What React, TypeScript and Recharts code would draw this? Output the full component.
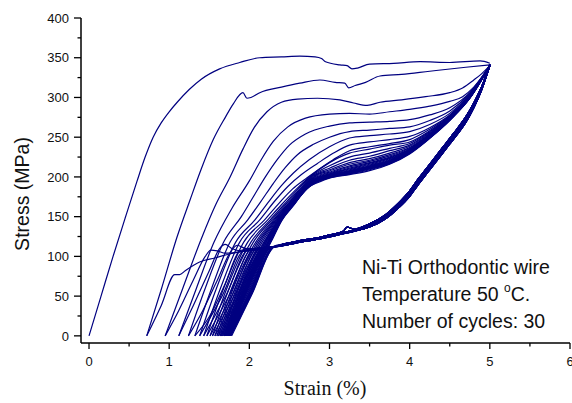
import { LineChart, Line, XAxis, YAxis } from 'recharts'

// Ni-Ti wire, 30 load/unload cycles, stress-strain loops
const LINE_COLOR = '#000080'

// loading branch of every cycle: [strain %, stress MPa]
const loadingPaths: number[][][] = [
  [[0,0],[0.15,50],[0.3,100],[0.45,148],[0.6,195],[0.7,225],[0.8,250],[0.9,268],[1.0,282],[1.1,294],[1.25,310],[1.4,323],[1.63,336],[1.88,344],[2.13,350],[2.4,351],[2.63,352],[2.82,351],[2.9,349],[2.95,345],[3.13,341],[3.22,340],[3.28,336],[3.35,337],[3.5,342],[3.8,343],[4.13,345],[4.5,344],[4.88,346],[5,343]],
  [[0.72,0],[0.9,58],[1.1,125],[1.26,171],[1.4,210],[1.55,247],[1.7,275],[1.8,292],[1.92,306],[1.97,299],[2.02,300],[2.13,306],[2.4,313],[2.63,318],[2.88,322],[3.07,319],[3.19,318],[3.24,312],[3.32,315],[3.45,319],[3.63,327],[3.9,329],[4.25,333],[4.7,338],[5,341]],
  [[0.95,0],[1.17,60],[1.4,122],[1.58,165],[1.76,200],[1.92,235],[2.06,262],[2.22,282],[2.4,294],[2.6,298],[2.85,299],[3.13,297],[3.3,293],[3.47,290],[3.63,294],[3.9,297],[4.2,301],[4.5,306],[4.66,312],[4.8,322],[4.9,330],[5,340]],
  [[1.12,0],[1.34,60],[1.56,118],[1.78,160],[2.0,195],[2.15,222],[2.3,245],[2.48,263],[2.7,274],[3.0,279],[3.25,280],[3.5,279],[3.75,282],[4.0,285],[4.25,289],[4.5,295],[4.66,301],[4.8,313],[5,340]],
  [[1.24,0],[1.45,60],[1.68,118],[1.9,150],[2.05,175],[2.2,200],[2.35,222],[2.5,240],[2.7,254],[3.0,264],[3.25,268],[3.5,269],[3.75,270],[4.0,272],[4.25,278],[4.5,287],[4.75,306],[5,340]],
  [[1.32,0],[1.53,60],[1.76,118],[1.98,146],[2.15,170],[2.3,192],[2.45,212],[2.6,228],[2.8,241],[3.0,250],[3.25,257],[3.5,259],[3.75,261],[4.0,263],[4.25,271],[4.5,283],[4.75,305],[5,340]],
  [[1.38,0],[1.59,60],[1.83,118],[2.07,146],[2.25,170],[2.4,189],[2.55,205],[2.75,222],[3.0,238],[3.25,249],[3.5,252],[3.75,254],[4.0,257],[4.25,266],[4.5,280],[4.75,304],[5,340]],
  [[1.43,0],[1.64,60],[1.88,118],[2.13,146],[2.32,170],[2.48,188],[2.65,203],[2.85,217],[3.05,230],[3.25,240],[3.5,244],[3.75,247],[4.0,251],[4.25,262],[4.5,278],[4.75,303],[5,340]],
  [[1.47,0],[1.68,60],[1.93,118],[2.19,146],[2.38,168],[2.54,185],[2.72,199],[2.9,212],[3.05,222],[3.25,233],[3.5,238],[3.75,242],[4.0,247],[4.25,260],[4.5,277],[4.75,303],[5,340]],
  [[1.51,0],[1.72,60],[1.98,118],[2.23,146],[2.4,165],[2.59,185],[2.75,200],[3.0,218],[3.25,230],[3.5,235],[3.75,240],[4.0,244],[4.25,258],[4.5,276],[4.75,302],[5,340]],
  [[1.54,0],[1.75,60],[2.02,118],[2.26,146],[2.43,165],[2.61,185],[2.8,203],[3.0,214],[3.25,225],[3.5,230],[3.75,236],[4.0,242],[4.25,257],[4.5,275.5],[4.75,302],[5,340]],
  [[1.57,0],[1.78,60],[2.05,118],[2.28,146],[2.45,165],[2.63,185],[2.8,202],[3.0,211],[3.25,221],[3.5,226],[3.75,233],[4.0,240],[4.25,256],[4.5,275],[4.75,301.5],[5,340]],
  [[1.595,0],[1.8,60],[2.08,118],[2.3,146],[2.47,165],[2.64,185],[2.8,201],[3.0,209],[3.25,218],[3.5,223],[3.75,230],[4.0,238.5],[4.25,255],[4.5,274.5],[4.75,301.5],[5,340]],
  [[1.615,0],[1.82,60],[2.1,118],[2.315,146],[2.48,165],[2.65,185],[2.8,200],[3.0,207.5],[3.25,216],[3.5,221],[3.75,228],[4.0,237],[4.25,254],[4.5,274],[4.75,301],[5,340]],
  [[1.635,0],[1.84,60],[2.12,118],[2.33,146],[2.49,165],[2.66,185],[2.8,199],[3.0,206],[3.25,214],[3.5,219.5],[3.75,226.5],[4.0,236],[4.25,253.5],[4.5,274],[4.75,301],[5,340]],
  [[1.65,0],[1.86,60],[2.14,118],[2.34,146],[2.5,165],[2.67,185],[2.8,198],[3.0,205],[3.25,212.5],[3.5,218],[3.75,225],[4.0,235],[4.25,253],[4.5,273.5],[4.75,301],[5,340]],
  [[1.665,0],[1.87,60],[2.16,118],[2.35,146],[2.505,165],[2.675,185],[2.8,197],[3.0,204],[3.25,211],[3.5,217],[3.75,224],[4.0,234.5],[4.25,252.5],[4.5,273.5],[4.75,300.5],[5,340]],
  [[1.68,0],[1.89,60],[2.18,118],[2.36,146],[2.51,165],[2.68,185],[2.8,196.5],[3.0,203.5],[3.25,210],[3.5,216],[3.75,223],[4.0,234],[4.25,252],[4.5,273],[4.75,300.5],[5,340]],
  [[1.69,0],[1.9,60],[2.19,118],[2.365,146],[2.515,165],[2.685,185],[2.8,196],[3.0,203],[3.25,209],[3.5,215],[3.75,222],[4.0,233.5],[4.25,251.5],[4.5,273],[4.75,300.5],[5,340]],
  [[1.7,0],[1.91,60],[2.2,118],[2.37,146],[2.52,165],[2.69,185],[2.8,195.5],[3.0,202.5],[3.25,208],[3.5,214],[3.75,221],[4.0,233],[4.25,251],[4.5,273],[4.75,300],[5,340]],
  [[1.71,0],[1.92,60],[2.21,118],[2.375,146],[2.525,165],[2.695,185],[2.8,195],[3.0,202],[3.25,207.5],[3.5,213.5],[3.75,220.5],[4.0,232.5],[4.25,250.5],[4.5,272.5],[4.75,300],[5,340]],
  [[1.72,0],[1.93,60],[2.22,118],[2.38,146],[2.53,165],[2.7,185],[2.8,194.5],[3.0,201.5],[3.25,207],[3.5,213],[3.75,220],[4.0,232],[4.25,250.5],[4.5,272.5],[4.75,300],[5,340]],
  [[1.73,0],[1.94,60],[2.23,118],[2.385,146],[2.535,165],[2.705,185],[2.8,194],[3.0,201],[3.25,206.5],[3.5,212.5],[3.75,219.5],[4.0,231.5],[4.25,250],[4.5,272.5],[4.75,300],[5,340]],
  [[1.735,0],[1.945,60],[2.235,118],[2.39,146],[2.54,165],[2.71,185],[2.8,193.5],[3.0,200.5],[3.25,206],[3.5,212],[3.75,219],[4.0,231],[4.25,250],[4.5,272],[4.75,299.5],[5,340]],
  [[1.74,0],[1.95,60],[2.24,118],[2.393,146],[2.545,165],[2.712,185],[2.8,193],[3.0,200],[3.25,205.5],[3.5,211.5],[3.75,218.5],[4.0,231],[4.25,249.5],[4.5,272],[4.75,299.5],[5,340]],
  [[1.745,0],[1.955,60],[2.245,118],[2.396,146],[2.548,165],[2.714,185],[2.8,192.5],[3.0,199.8],[3.25,205],[3.5,211],[3.75,218],[4.0,230.5],[4.25,249.5],[4.5,272],[4.75,299.5],[5,340]],
  [[1.75,0],[1.96,60],[2.25,118],[2.4,146],[2.55,165],[2.716,185],[2.8,192],[3.0,199.5],[3.25,204.5],[3.5,210.5],[3.75,217.5],[4.0,230],[4.25,249],[4.5,272],[4.75,299.5],[5,340]],
  [[1.755,0],[1.965,60],[2.26,118],[2.403,146],[2.552,165],[2.718,185],[2.8,191.5],[3.0,199.3],[3.25,204],[3.5,210],[3.75,217],[4.0,230],[4.25,249],[4.5,271.5],[4.75,299],[5,340]],
  [[1.76,0],[1.97,60],[2.265,118],[2.406,146],[2.555,165],[2.72,185],[2.8,191],[3.0,199],[3.25,203.5],[3.5,209],[3.75,216.5],[4.0,229.5],[4.25,249],[4.5,271.5],[4.75,299],[5,340]],
  [[1.77,0],[1.98,60],[2.27,118],[2.41,146],[2.56,165],[2.72,187],[2.8,190.5],[3.0,198.5],[3.25,203],[3.5,208],[3.75,216],[4.0,229],[4.25,248.5],[4.5,271],[4.75,299],[5,340]],
]

// common upper part of the unloading (reverse) branch, three slightly different runs
const unloadBranchA = [[5,342],[4.9,314],[4.8,293],[4.7,275.5],[4.6,261.5],[4.5,248.5],[4.4,235.5],[4.3,222.5],[4.2,209.5],[4.1,196.5],[4.0,182.5],[3.85,166],[3.7,152.5],[3.5,141],[3.3,134.5],[3.22,137],[3.17,131.5],[3.0,127],[2.88,124],[2.7,121],[2.59,119],[2.45,116]]
const unloadBranchB = [[5,340],[4.9,312],[4.8,290],[4.7,272],[4.6,258],[4.5,245],[4.4,232],[4.3,219],[4.2,206],[4.1,193],[4.0,179],[3.85,163],[3.7,150],[3.5,139],[3.3,133],[3.17,130],[3.0,126],[2.88,123],[2.7,120],[2.59,118],[2.45,115]]
const unloadBranchC = [[5,340],[4.9,310],[4.8,287],[4.7,268.5],[4.6,254.5],[4.5,241.5],[4.4,228.5],[4.3,215.5],[4.2,202.5],[4.1,189.5],[4.0,175.5],[3.85,160],[3.7,147.5],[3.5,137],[3.3,131.5],[3.17,128.5],[3.0,124.5],[2.88,122],[2.7,119],[2.59,117],[2.45,114]]
const branchOfCycle = [0,0,1,2,0,1,2,0,1,2,0,1,2,0,1,2,0,1,2,0,1,2,0,1,2,0,1,2,0,1]

// lower plateau end and drop to residual strain, per cycle
const unloadTails: number[][][] = [
  [[2.3,112],[2.1,109],[1.9,106],[1.75,103],[1.57,98],[1.38,93],[1.2,82],[1.13,77],[1.07,77],[0.9,38],[0.72,0]],
  [[2.3,112],[2.1,108],[1.9,106],[1.7,104],[1.6,107],[1.52,108],[1.45,100],[1.3,70],[1.12,32],[0.95,0]],
  [[2.3,112],[2.1,109],[1.9,107],[1.78,110],[1.7,115],[1.63,110],[1.5,82],[1.3,38],[1.12,0]],
  [[2.3,112],[2.1,109],[1.95,110],[1.85,114],[1.78,108],[1.6,70],[1.42,32],[1.24,0]],
  [[2.3,112],[2.1,110],[1.95,109],[1.88,107],[1.7,66],[1.5,24],[1.32,0]],
  [[2.3,112],[2.1,110],[1.94,108],[1.66,50],[1.38,0]],
  [[2.3,112],[2.1,110],[1.99,109],[1.71,51],[1.43,0]],
  [[2.3,112],[2.15,110],[2.03,109],[1.75,51],[1.47,0]],
  [[2.3,112],[2.15,111],[2.07,110],[1.79,52],[1.51,0]],
  [[2.3,112],[2.2,111],[2.1,110],[1.82,52],[1.54,0]],
  [[2.3,112],[2.2,111],[2.13,110],[1.85,52],[1.57,0]],
  [[2.3,112],[2.15,111],[1.87,53],[1.595,0]],
  [[2.3,112],[2.17,111],[1.89,53],[1.615,0]],
  [[2.3,112],[2.19,111],[1.91,53],[1.635,0]],
  [[2.3,112],[2.2,111],[1.925,53],[1.65,0]],
  [[2.3,112],[2.21,111],[1.935,53],[1.665,0]],
  [[2.3,112],[2.22,111],[1.95,53],[1.68,0]],
  [[2.3,112],[2.23,112],[1.96,54],[1.69,0]],
  [[2.3,112],[2.24,112],[1.97,54],[1.7,0]],
  [[2.3,112],[2.25,112],[1.98,54],[1.71,0]],
  [[2.3,112],[2.26,112],[1.99,54],[1.72,0]],
  [[2.3,112],[2.27,112],[2.0,54],[1.73,0]],
  [[2.3,112],[2.275,112],[2.005,54],[1.735,0]],
  [[2.3,112],[2.28,112],[2.01,54],[1.74,0]],
  [[2.3,112],[2.285,112],[2.015,54],[1.745,0]],
  [[2.29,112],[2.02,54],[1.75,0]],
  [[2.295,112],[2.025,54],[1.755,0]],
  [[2.3,112],[2.03,54],[1.76,0]],
  [[2.305,112],[2.035,54],[1.77,0]],
  [[2.31,112],[2.04,54],[1.78,0]],
]

const xTicks = [0, 0.5, 1, 1.5, 2, 2.5, 3, 3.5, 4, 4.5, 5, 5.5, 6]
const yTicks = [0, 25, 50, 75, 100, 125, 150, 175, 200, 225, 250, 275, 300, 325, 350, 375, 400]
const noteLines = ['Ni-Ti Orthodontic wire', 'Temperature 50 ', 'Number of cycles: 30']

const SANS = '"Liberation Sans", Arial, sans-serif'
const SERIF = '"Liberation Serif", "Times New Roman", serif'
const AXIS_X = 81
const AXIS_Y = 343

const toPoints = (pts: number[][]) => pts.map(([x, y]) => ({ x, y }))
const branches = [unloadBranchA, unloadBranchB, unloadBranchC]
const loadingSeries = loadingPaths.map(toPoints)
const unloadingSeries = unloadTails.map((tail, i) => toPoints([...branches[branchOfCycle[i]], ...tail]))

// eslint-disable-next-line @typescript-eslint/no-explicit-any
function XTick({ x, payload }: any) {
  const major = Number.isInteger(payload.value)
  return (
    <g>
      <line x1={x} x2={x} y1={AXIS_Y} y2={AXIS_Y + (major ? 6 : 3.5)} stroke="#000" strokeWidth={1.3} />
      {major && (
        <text x={x} y={AXIS_Y + 23} textAnchor="middle" fontSize={13} fontFamily={SANS} fill="#111">
          {payload.value}
        </text>
      )}
    </g>
  )
}

// eslint-disable-next-line @typescript-eslint/no-explicit-any
function YTick({ y, payload }: any) {
  const major = payload.value % 50 === 0
  return (
    <g>
      <line x1={AXIS_X} x2={AXIS_X - (major ? 7 : 3.5)} y1={y} y2={y} stroke="#000" strokeWidth={1.3} />
      {major && (
        <text x={AXIS_X - 12} y={y} dy="0.36em" textAnchor="end" fontSize={13} fontFamily={SANS} fill="#111">
          {payload.value}
        </text>
      )}
    </g>
  )
}

export default function App() {
  return (
    <div style={{ position: 'absolute', left: 0, top: 0, width: 572, height: 403, background: '#fff' }}>
      <LineChart width={572} height={403} margin={{ top: 18, right: 2, bottom: 30, left: 21 }}>
        <XAxis
          type="number"
          dataKey="x"
          domain={[-0.1, 6]}
          ticks={xTicks}
          interval={0}
          allowDataOverflow
          height={30}
          tickLine={false}
          axisLine={{ stroke: '#000', strokeWidth: 1.5 }}
          tick={XTick}
        />
        <YAxis
          type="number"
          dataKey="y"
          domain={[-9, 400]}
          ticks={yTicks}
          interval={0}
          allowDataOverflow
          width={60}
          tickLine={false}
          axisLine={{ stroke: '#000', strokeWidth: 1.5 }}
          tick={YTick}
        />
        {loadingSeries.map((d, i) => (
          <Line key={`load-${i}`} data={d} dataKey="y" type="monotone" stroke={LINE_COLOR}
            strokeWidth={1.2} dot={false} activeDot={false} isAnimationActive={false} />
        ))}
        {unloadingSeries.map((d, i) => (
          <Line key={`unload-${i}`} data={d} dataKey="y" type="monotone" stroke={LINE_COLOR}
            strokeWidth={1.2} dot={false} activeDot={false} isAnimationActive={false} />
        ))}
      </LineChart>

      {/* axis titles and the note, laid over the chart */}
      <svg width={572} height={403} style={{ position: 'absolute', left: 0, top: 0, pointerEvents: 'none' }}>
        <text x={29} y={194} transform="rotate(-90, 29, 194)" textAnchor="middle" fontSize={19.5} fontFamily={SANS} fill="#111">
          Stress (MPa)
        </text>
        <text x={325} y={395} textAnchor="middle" fontSize={20} fontFamily={SERIF} fill="#111">
          Strain (%)
        </text>
        <text x={362} y={274} fontSize={19.5} fontFamily={SANS} fill="#111">{noteLines[0]}</text>
        <text x={362} y={301} fontSize={19.5} fontFamily={SANS} fill="#111">
          {noteLines[1]}
          <tspan fontSize={12} dy={-9}>o</tspan>
          <tspan dy={9}>C.</tspan>
        </text>
        <text x={362} y={328} fontSize={19.5} fontFamily={SANS} fill="#111">{noteLines[2]}</text>
      </svg>
    </div>
  )
}
